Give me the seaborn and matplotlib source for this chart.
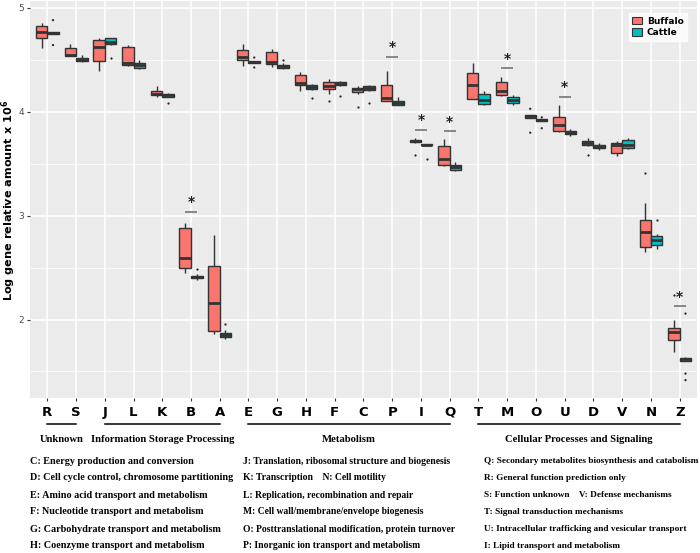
import matplotlib
matplotlib.use("Agg")
import matplotlib.pyplot as plt
from matplotlib.patches import Patch
from matplotlib.transforms import blended_transform_factory
import seaborn as sns
import pandas as pd

cats = ["R", "S", "J", "L", "K", "B", "A", "E", "G", "H", "F", "C", "P", "I", "Q",
        "T", "M", "O", "U", "D", "V", "N", "Z"]
groups = ["Buffalo", "Cattle"]

# five-number summaries (lower whisker, Q1, median, Q3, upper whisker)
buffalo_lo  = [4.616, 4.533, 4.386, 4.440, 4.136, 2.447, 1.865, 4.443, 4.430, 4.194, 4.168, 4.168, 4.098, 3.700, 3.478, 4.118, 4.149, 3.938, 3.803, 3.670, 3.574, 2.652, 1.686]
buffalo_q1  = [4.706, 4.533, 4.488, 4.450, 4.159, 2.498, 1.890, 4.495, 4.456, 4.258, 4.213, 4.187, 4.098, 3.708, 3.484, 4.124, 4.155, 3.938, 3.816, 3.682, 3.599, 2.697, 1.807]
buffalo_med = [4.770, 4.546, 4.623, 4.469, 4.168, 2.594, 2.160, 4.527, 4.475, 4.277, 4.251, 4.213, 4.130, 3.717, 3.541, 4.258, 4.200, 3.957, 3.868, 3.695, 3.682, 2.844, 1.878]
buffalo_q3  = [4.820, 4.616, 4.686, 4.623, 4.200, 2.882, 2.510, 4.590, 4.571, 4.354, 4.283, 4.226, 4.258, 3.727, 3.669, 4.373, 4.283, 3.970, 3.944, 3.714, 3.695, 2.953, 1.923]
buffalo_hi  = [4.853, 4.648, 4.706, 4.642, 4.245, 2.927, 2.810, 4.648, 4.603, 4.379, 4.309, 4.245, 4.386, 3.750, 3.740, 4.463, 4.335, 3.970, 4.066, 3.746, 3.720, 3.119, 2.000]

cattle_lo  = [4.745, 4.480, 4.640, 4.410, 4.140, 2.377, 1.810, 4.469, 4.410, 4.210, 4.245, 4.200, 4.060, 3.676, 3.430, 4.066, 4.066, 3.906, 3.770, 3.630, 3.640, 2.680, 1.603]
cattle_q1  = [4.745, 4.488, 4.648, 4.424, 4.143, 2.396, 1.833, 4.469, 4.424, 4.219, 4.258, 4.207, 4.066, 3.676, 3.439, 4.072, 4.085, 3.906, 3.784, 3.650, 3.650, 2.716, 1.603]
cattle_med = [4.757, 4.500, 4.674, 4.450, 4.155, 2.409, 1.852, 4.479, 4.437, 4.239, 4.270, 4.226, 4.079, 3.682, 3.464, 4.111, 4.111, 3.919, 3.797, 3.663, 3.676, 2.767, 1.616]
cattle_q3  = [4.770, 4.514, 4.706, 4.469, 4.168, 2.422, 1.870, 4.488, 4.450, 4.258, 4.283, 4.245, 4.104, 3.688, 3.490, 4.168, 4.136, 3.925, 3.810, 3.676, 3.727, 2.799, 1.628]
cattle_hi  = [4.770, 4.540, 4.712, 4.495, 4.175, 2.434, 1.900, 4.488, 4.470, 4.270, 4.290, 4.255, 4.143, 3.688, 3.516, 4.194, 4.155, 3.925, 3.828, 3.695, 3.746, 2.825, 1.640]

# outlier points
out_cat   = ["R", "R", "J", "K", "B", "A", "E", "E", "G", "H", "F", "F", "C", "C", "I", "I",
             "O", "O", "O", "O", "D", "N", "N", "Z", "Z", "Z", "Z"]
out_group = ["Cattle", "Cattle", "Cattle", "Cattle", "Cattle", "Cattle", "Cattle", "Cattle",
             "Cattle", "Cattle", "Buffalo", "Cattle", "Buffalo", "Cattle", "Buffalo", "Cattle",
             "Buffalo", "Buffalo", "Cattle", "Cattle", "Buffalo", "Buffalo", "Cattle",
             "Buffalo", "Cattle", "Cattle", "Cattle"]
out_val   = [4.880, 4.640, 4.520, 4.085, 2.486, 1.960, 4.520, 4.424, 4.500, 4.130, 4.098, 4.149,
             4.047, 4.085, 3.580, 3.548, 4.027, 3.797, 3.945, 3.840, 3.580, 3.413, 2.959,
             2.240, 2.057, 1.480, 1.417]

# significance marks
sig_cats = ["B", "P", "I", "Q", "M", "U", "Z"]
sig_y    = [3.036, 4.527, 3.823, 3.810, 4.418, 4.143, 2.127]

group_names = ["Unknown", "Information Storage Processing", "Metabolism",
               "Cellular Processes and Signaling"]
group_span  = [("R", "S"), ("J", "A"), ("E", "Q"), ("T", "Z")]

legend_col1 = ["C: Energy production and conversion",
               "D: Cell cycle control, chromosome partitioning",
               "E: Amino acid transport and metabolism",
               "F: Nucleotide transport and metabolism",
               "G: Carbohydrate transport and metabolism",
               "H: Coenzyme transport and metabolism"]
legend_col2 = ["J: Translation, ribosomal structure and biogenesis",
               "K: Transcription    N: Cell motility",
               "L: Replication, recombination and repair",
               "M: Cell wall/membrane/envelope biogenesis",
               "O: Posttranslational modification, protein turnover",
               "P: Inorganic ion transport and metabolism"]
legend_col3 = ["Q: Secondary metabolites biosynthesis and catabolism",
               "R: General function prediction only",
               "S: Function unknown    V: Defense mechanisms",
               "T: Signal transduction mechanisms",
               "U: Intracellular trafficking and vesicular transport",
               "I: Lipid transport and metabolism"]

# ---- build long table ----
rows = []
for g, stats in (("Buffalo", (buffalo_lo, buffalo_q1, buffalo_med, buffalo_q3, buffalo_hi)),
                 ("Cattle", (cattle_lo, cattle_q1, cattle_med, cattle_q3, cattle_hi))):
    for i, c in enumerate(cats):
        for s in stats:
            rows.append({"cat": c, "group": g, "value": s[i]})
df = pd.DataFrame(rows)
df_out = pd.DataFrame({"cat": out_cat, "group": out_group, "value": out_val})

colors = {"Buffalo": "#F8766D", "Cattle": "#00BFC4"}

fig = plt.figure(figsize=(7, 5.53), dpi=100)
ax = fig.add_axes([30 / 700, 1 - 398 / 553, 667 / 700, 397 / 553])
ax.set_facecolor("#EBEBEB")

sns.boxplot(data=df, x="cat", y="value", hue="group", order=cats, hue_order=groups,
            palette=colors, width=0.8, gap=0, whis=(0, 100), showcaps=False,
            linewidth=1.0, linecolor="#333333", saturation=1,
            medianprops={"linewidth": 2.0, "color": "#333333"},
            ax=ax, legend=False, zorder=3)
sns.stripplot(data=df_out, x="cat", y="value", hue="group", order=cats, hue_order=groups,
              palette={"Buffalo": "#222222", "Cattle": "#222222"}, dodge=True, jitter=False,
              size=1.6, ax=ax, legend=False, zorder=4)

for c, y in zip(sig_cats, sig_y):
    i = cats.index(c)
    ax.hlines(y, i - 0.21, i + 0.21, color="#7F7F7F", lw=1.3, zorder=5)
    ax.text(i, y + 0.025, "*", ha="center", va="bottom", fontsize=10, color="#222222",
            fontweight="bold", zorder=5)

ax.set_xlim(-0.6, len(cats) - 0.4)
ax.set_ylim(1.245, 5.064)
ax.set_yticks([2, 3, 4, 5])
ax.set_yticks([1.5, 2.5, 3.5, 4.5], minor=True)
ax.grid(True, which="major", color="white", lw=1.1, zorder=0)
ax.grid(True, which="minor", axis="y", color="white", lw=0.55, zorder=0)
ax.set_axisbelow(True)
for sp in ax.spines.values():
    sp.set_visible(False)
ax.tick_params(axis="both", which="major", length=2.5, color="#333333", width=0.8)
ax.tick_params(axis="y", which="minor", length=0)
ax.tick_params(axis="y", labelsize=6.5, labelcolor="#4D4D4D", pad=2)
ax.tick_params(axis="x", labelsize=9.5, labelcolor="black", pad=3)
for t in ax.get_xticklabels():
    t.set_fontweight("bold")
ax.set_xlabel("")
ax.set_ylabel("")
fig.text(9 / 700, 1 - 200 / 553, "Log gene relative amount x 10$^{\\mathbf{6}}$",
         rotation=90, fontsize=8.1, fontweight="bold", ha="center", va="center")

handles = [Patch(facecolor=colors[g], edgecolor="#333333", lw=0.8, label=g) for g in groups]
leg = ax.legend(handles=handles, loc="upper right", bbox_to_anchor=(687 / 700, 1 - 13 / 553),
                bbox_transform=fig.transFigure, frameon=True, fontsize=6.5,
                handlelength=1.1, handleheight=0.9, borderpad=0.4, labelspacing=0.3,
                handletextpad=0.5, borderaxespad=0)
leg.get_frame().set_facecolor("white")
leg.get_frame().set_edgecolor("white")
leg.get_frame().set_boxstyle("square", pad=0)
for t in leg.get_texts():
    t.set_fontweight("bold")

# group lines and labels under the axis
tr = blended_transform_factory(ax.transData, fig.transFigure)
line_y = 1 - 424 / 553
label_y = 1 - 439 / 553
serif = "Liberation Serif"
for name, (a, b) in zip(group_names, group_span):
    ia, ib = cats.index(a), cats.index(b)
    ax.plot([ia, ib], [line_y, line_y], transform=tr, color="black", lw=1.1, clip_on=False)
    fig.text((ia + ib) / 2, label_y, name, transform=tr, fontsize=7.7, fontweight="bold",
             family=serif, ha="center", va="center")

row_y = [461, 478, 495, 512, 529, 546]
for col_x, col, fs in ((30, legend_col1, 7.3), (243, legend_col2, 6.9), (484, legend_col3, 6.65)):
    for y, s in zip(row_y, col):
        fig.text(col_x / 700, 1 - y / 553, s, fontsize=fs, fontweight="bold", family=serif,
                 ha="left", va="center")

fig.savefig("out.png", dpi=100)
